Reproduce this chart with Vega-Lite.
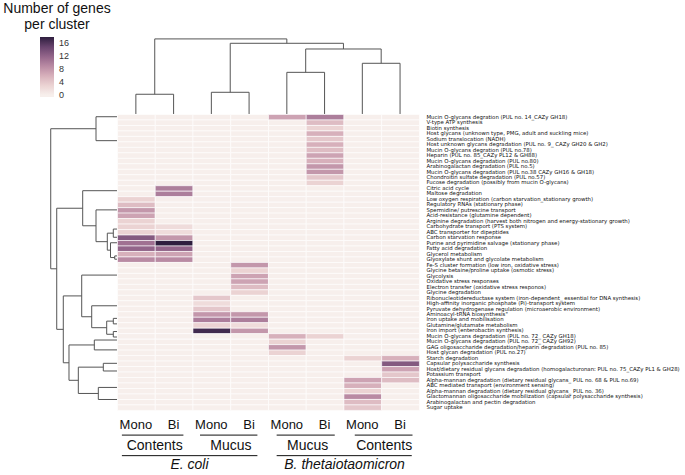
{
"$schema": "https://vega.github.io/schema/vega-lite/v6.json",
"width": 685, "height": 475, "autosize": "none", "padding": 0,
"background": "white",
"config": {"view": {"stroke": null}, "font": "Liberation Sans"},
"datasets": {
"cells": [
{"i":0,"j":0,"v":0},{"i":0,"j":1,"v":0},{"i":0,"j":2,"v":0},{"i":0,"j":3,"v":0},{"i":0,"j":4,"v":7},{"i":0,"j":5,"v":10},{"i":0,"j":6,"v":0},{"i":0,"j":7,"v":0},
{"i":1,"j":0,"v":0},{"i":1,"j":1,"v":0},{"i":1,"j":2,"v":0},{"i":1,"j":3,"v":0},{"i":1,"j":4,"v":0},{"i":1,"j":5,"v":5},{"i":1,"j":6,"v":0},{"i":1,"j":7,"v":0},
{"i":2,"j":0,"v":0},{"i":2,"j":1,"v":0},{"i":2,"j":2,"v":0},{"i":2,"j":3,"v":0},{"i":2,"j":4,"v":0},{"i":2,"j":5,"v":3},{"i":2,"j":6,"v":0},{"i":2,"j":7,"v":0},
{"i":3,"j":0,"v":0},{"i":3,"j":1,"v":0},{"i":3,"j":2,"v":0},{"i":3,"j":3,"v":0},{"i":3,"j":4,"v":0},{"i":3,"j":5,"v":6},{"i":3,"j":6,"v":0},{"i":3,"j":7,"v":0},
{"i":4,"j":0,"v":0},{"i":4,"j":1,"v":0},{"i":4,"j":2,"v":0},{"i":4,"j":3,"v":0},{"i":4,"j":4,"v":0},{"i":4,"j":5,"v":4},{"i":4,"j":6,"v":0},{"i":4,"j":7,"v":0},
{"i":5,"j":0,"v":0},{"i":5,"j":1,"v":0},{"i":5,"j":2,"v":0},{"i":5,"j":3,"v":0},{"i":5,"j":4,"v":0},{"i":5,"j":5,"v":6},{"i":5,"j":6,"v":0},{"i":5,"j":7,"v":0},
{"i":6,"j":0,"v":0},{"i":6,"j":1,"v":0},{"i":6,"j":2,"v":0},{"i":6,"j":3,"v":0},{"i":6,"j":4,"v":0},{"i":6,"j":5,"v":5},{"i":6,"j":6,"v":0},{"i":6,"j":7,"v":0},
{"i":7,"j":0,"v":0},{"i":7,"j":1,"v":0},{"i":7,"j":2,"v":0},{"i":7,"j":3,"v":0},{"i":7,"j":4,"v":0},{"i":7,"j":5,"v":7},{"i":7,"j":6,"v":0},{"i":7,"j":7,"v":0},
{"i":8,"j":0,"v":0},{"i":8,"j":1,"v":0},{"i":8,"j":2,"v":0},{"i":8,"j":3,"v":0},{"i":8,"j":4,"v":0},{"i":8,"j":5,"v":6},{"i":8,"j":6,"v":0},{"i":8,"j":7,"v":0},
{"i":9,"j":0,"v":0},{"i":9,"j":1,"v":0},{"i":9,"j":2,"v":0},{"i":9,"j":3,"v":0},{"i":9,"j":4,"v":0},{"i":9,"j":5,"v":8},{"i":9,"j":6,"v":0},{"i":9,"j":7,"v":0},
{"i":10,"j":0,"v":0},{"i":10,"j":1,"v":0},{"i":10,"j":2,"v":0},{"i":10,"j":3,"v":0},{"i":10,"j":4,"v":0},{"i":10,"j":5,"v":8},{"i":10,"j":6,"v":0},{"i":10,"j":7,"v":0},
{"i":11,"j":0,"v":0},{"i":11,"j":1,"v":0},{"i":11,"j":2,"v":0},{"i":11,"j":3,"v":0},{"i":11,"j":4,"v":0},{"i":11,"j":5,"v":4},{"i":11,"j":6,"v":0},{"i":11,"j":7,"v":0},
{"i":12,"j":0,"v":0},{"i":12,"j":1,"v":0},{"i":12,"j":2,"v":0},{"i":12,"j":3,"v":0},{"i":12,"j":4,"v":0},{"i":12,"j":5,"v":3},{"i":12,"j":6,"v":0},{"i":12,"j":7,"v":0},
{"i":13,"j":0,"v":0},{"i":13,"j":1,"v":10},{"i":13,"j":2,"v":0},{"i":13,"j":3,"v":0},{"i":13,"j":4,"v":0},{"i":13,"j":5,"v":0},{"i":13,"j":6,"v":0},{"i":13,"j":7,"v":0},
{"i":14,"j":0,"v":0},{"i":14,"j":1,"v":10},{"i":14,"j":2,"v":0},{"i":14,"j":3,"v":0},{"i":14,"j":4,"v":0},{"i":14,"j":5,"v":0},{"i":14,"j":6,"v":0},{"i":14,"j":7,"v":0},
{"i":15,"j":0,"v":3},{"i":15,"j":1,"v":0},{"i":15,"j":2,"v":0},{"i":15,"j":3,"v":0},{"i":15,"j":4,"v":0},{"i":15,"j":5,"v":0},{"i":15,"j":6,"v":0},{"i":15,"j":7,"v":0},
{"i":16,"j":0,"v":5},{"i":16,"j":1,"v":0},{"i":16,"j":2,"v":0},{"i":16,"j":3,"v":0},{"i":16,"j":4,"v":0},{"i":16,"j":5,"v":0},{"i":16,"j":6,"v":0},{"i":16,"j":7,"v":0},
{"i":17,"j":0,"v":8},{"i":17,"j":1,"v":0},{"i":17,"j":2,"v":0},{"i":17,"j":3,"v":0},{"i":17,"j":4,"v":0},{"i":17,"j":5,"v":0},{"i":17,"j":6,"v":0},{"i":17,"j":7,"v":0},
{"i":18,"j":0,"v":7},{"i":18,"j":1,"v":0},{"i":18,"j":2,"v":0},{"i":18,"j":3,"v":0},{"i":18,"j":4,"v":0},{"i":18,"j":5,"v":0},{"i":18,"j":6,"v":0},{"i":18,"j":7,"v":0},
{"i":19,"j":0,"v":3},{"i":19,"j":1,"v":0},{"i":19,"j":2,"v":0},{"i":19,"j":3,"v":0},{"i":19,"j":4,"v":0},{"i":19,"j":5,"v":0},{"i":19,"j":6,"v":0},{"i":19,"j":7,"v":0},
{"i":20,"j":0,"v":3},{"i":20,"j":1,"v":2},{"i":20,"j":2,"v":0},{"i":20,"j":3,"v":0},{"i":20,"j":4,"v":0},{"i":20,"j":5,"v":0},{"i":20,"j":6,"v":0},{"i":20,"j":7,"v":0},
{"i":21,"j":0,"v":3},{"i":21,"j":1,"v":2},{"i":21,"j":2,"v":0},{"i":21,"j":3,"v":0},{"i":21,"j":4,"v":0},{"i":21,"j":5,"v":0},{"i":21,"j":6,"v":0},{"i":21,"j":7,"v":0},
{"i":22,"j":0,"v":13},{"i":22,"j":1,"v":8},{"i":22,"j":2,"v":0},{"i":22,"j":3,"v":0},{"i":22,"j":4,"v":0},{"i":22,"j":5,"v":0},{"i":22,"j":6,"v":0},{"i":22,"j":7,"v":0},
{"i":23,"j":0,"v":11},{"i":23,"j":1,"v":18},{"i":23,"j":2,"v":0},{"i":23,"j":3,"v":0},{"i":23,"j":4,"v":0},{"i":23,"j":5,"v":0},{"i":23,"j":6,"v":0},{"i":23,"j":7,"v":0},
{"i":24,"j":0,"v":12},{"i":24,"j":1,"v":12},{"i":24,"j":2,"v":0},{"i":24,"j":3,"v":0},{"i":24,"j":4,"v":0},{"i":24,"j":5,"v":0},{"i":24,"j":6,"v":0},{"i":24,"j":7,"v":0},
{"i":25,"j":0,"v":6},{"i":25,"j":1,"v":7},{"i":25,"j":2,"v":0},{"i":25,"j":3,"v":0},{"i":25,"j":4,"v":0},{"i":25,"j":5,"v":0},{"i":25,"j":6,"v":0},{"i":25,"j":7,"v":0},
{"i":26,"j":0,"v":9},{"i":26,"j":1,"v":9},{"i":26,"j":2,"v":0},{"i":26,"j":3,"v":0},{"i":26,"j":4,"v":0},{"i":26,"j":5,"v":0},{"i":26,"j":6,"v":0},{"i":26,"j":7,"v":0},
{"i":27,"j":0,"v":0},{"i":27,"j":1,"v":0},{"i":27,"j":2,"v":0},{"i":27,"j":3,"v":8},{"i":27,"j":4,"v":0},{"i":27,"j":5,"v":0},{"i":27,"j":6,"v":0},{"i":27,"j":7,"v":0},
{"i":28,"j":0,"v":0},{"i":28,"j":1,"v":0},{"i":28,"j":2,"v":0},{"i":28,"j":3,"v":3},{"i":28,"j":4,"v":0},{"i":28,"j":5,"v":0},{"i":28,"j":6,"v":0},{"i":28,"j":7,"v":0},
{"i":29,"j":0,"v":0},{"i":29,"j":1,"v":0},{"i":29,"j":2,"v":0},{"i":29,"j":3,"v":7},{"i":29,"j":4,"v":0},{"i":29,"j":5,"v":0},{"i":29,"j":6,"v":0},{"i":29,"j":7,"v":0},
{"i":30,"j":0,"v":0},{"i":30,"j":1,"v":0},{"i":30,"j":2,"v":0},{"i":30,"j":3,"v":7},{"i":30,"j":4,"v":0},{"i":30,"j":5,"v":0},{"i":30,"j":6,"v":0},{"i":30,"j":7,"v":0},
{"i":31,"j":0,"v":0},{"i":31,"j":1,"v":0},{"i":31,"j":2,"v":0},{"i":31,"j":3,"v":5},{"i":31,"j":4,"v":0},{"i":31,"j":5,"v":0},{"i":31,"j":6,"v":0},{"i":31,"j":7,"v":0},
{"i":32,"j":0,"v":0},{"i":32,"j":1,"v":0},{"i":32,"j":2,"v":0},{"i":32,"j":3,"v":3},{"i":32,"j":4,"v":0},{"i":32,"j":5,"v":0},{"i":32,"j":6,"v":0},{"i":32,"j":7,"v":0},
{"i":33,"j":0,"v":0},{"i":33,"j":1,"v":0},{"i":33,"j":2,"v":4},{"i":33,"j":3,"v":0},{"i":33,"j":4,"v":0},{"i":33,"j":5,"v":0},{"i":33,"j":6,"v":0},{"i":33,"j":7,"v":0},
{"i":34,"j":0,"v":0},{"i":34,"j":1,"v":0},{"i":34,"j":2,"v":2},{"i":34,"j":3,"v":0},{"i":34,"j":4,"v":0},{"i":34,"j":5,"v":0},{"i":34,"j":6,"v":0},{"i":34,"j":7,"v":0},
{"i":35,"j":0,"v":0},{"i":35,"j":1,"v":0},{"i":35,"j":2,"v":4},{"i":35,"j":3,"v":0},{"i":35,"j":4,"v":0},{"i":35,"j":5,"v":0},{"i":35,"j":6,"v":0},{"i":35,"j":7,"v":0},
{"i":36,"j":0,"v":0},{"i":36,"j":1,"v":0},{"i":36,"j":2,"v":8},{"i":36,"j":3,"v":8},{"i":36,"j":4,"v":0},{"i":36,"j":5,"v":0},{"i":36,"j":6,"v":0},{"i":36,"j":7,"v":0},
{"i":37,"j":0,"v":0},{"i":37,"j":1,"v":0},{"i":37,"j":2,"v":10},{"i":37,"j":3,"v":10},{"i":37,"j":4,"v":0},{"i":37,"j":5,"v":0},{"i":37,"j":6,"v":0},{"i":37,"j":7,"v":0},
{"i":38,"j":0,"v":0},{"i":38,"j":1,"v":0},{"i":38,"j":2,"v":3},{"i":38,"j":3,"v":2},{"i":38,"j":4,"v":0},{"i":38,"j":5,"v":0},{"i":38,"j":6,"v":0},{"i":38,"j":7,"v":0},
{"i":39,"j":0,"v":0},{"i":39,"j":1,"v":0},{"i":39,"j":2,"v":17},{"i":39,"j":3,"v":8},{"i":39,"j":4,"v":0},{"i":39,"j":5,"v":0},{"i":39,"j":6,"v":0},{"i":39,"j":7,"v":0},
{"i":40,"j":0,"v":0},{"i":40,"j":1,"v":0},{"i":40,"j":2,"v":0},{"i":40,"j":3,"v":0},{"i":40,"j":4,"v":6},{"i":40,"j":5,"v":3},{"i":40,"j":6,"v":0},{"i":40,"j":7,"v":0},
{"i":41,"j":0,"v":0},{"i":41,"j":1,"v":0},{"i":41,"j":2,"v":0},{"i":41,"j":3,"v":0},{"i":41,"j":4,"v":3},{"i":41,"j":5,"v":0},{"i":41,"j":6,"v":0},{"i":41,"j":7,"v":0},
{"i":42,"j":0,"v":0},{"i":42,"j":1,"v":0},{"i":42,"j":2,"v":0},{"i":42,"j":3,"v":0},{"i":42,"j":4,"v":8},{"i":42,"j":5,"v":0},{"i":42,"j":6,"v":0},{"i":42,"j":7,"v":0},
{"i":43,"j":0,"v":0},{"i":43,"j":1,"v":0},{"i":43,"j":2,"v":0},{"i":43,"j":3,"v":0},{"i":43,"j":4,"v":3},{"i":43,"j":5,"v":0},{"i":43,"j":6,"v":0},{"i":43,"j":7,"v":0},
{"i":44,"j":0,"v":0},{"i":44,"j":1,"v":0},{"i":44,"j":2,"v":0},{"i":44,"j":3,"v":0},{"i":44,"j":4,"v":0},{"i":44,"j":5,"v":0},{"i":44,"j":6,"v":3},{"i":44,"j":7,"v":6},
{"i":45,"j":0,"v":0},{"i":45,"j":1,"v":0},{"i":45,"j":2,"v":0},{"i":45,"j":3,"v":0},{"i":45,"j":4,"v":0},{"i":45,"j":5,"v":0},{"i":45,"j":6,"v":0},{"i":45,"j":7,"v":13},
{"i":46,"j":0,"v":0},{"i":46,"j":1,"v":0},{"i":46,"j":2,"v":0},{"i":46,"j":3,"v":0},{"i":46,"j":4,"v":0},{"i":46,"j":5,"v":0},{"i":46,"j":6,"v":0},{"i":46,"j":7,"v":7},
{"i":47,"j":0,"v":0},{"i":47,"j":1,"v":0},{"i":47,"j":2,"v":0},{"i":47,"j":3,"v":0},{"i":47,"j":4,"v":0},{"i":47,"j":5,"v":0},{"i":47,"j":6,"v":0},{"i":47,"j":7,"v":4},
{"i":48,"j":0,"v":0},{"i":48,"j":1,"v":0},{"i":48,"j":2,"v":0},{"i":48,"j":3,"v":0},{"i":48,"j":4,"v":0},{"i":48,"j":5,"v":0},{"i":48,"j":6,"v":7},{"i":48,"j":7,"v":5},
{"i":49,"j":0,"v":0},{"i":49,"j":1,"v":0},{"i":49,"j":2,"v":0},{"i":49,"j":3,"v":0},{"i":49,"j":4,"v":0},{"i":49,"j":5,"v":0},{"i":49,"j":6,"v":6},{"i":49,"j":7,"v":0},
{"i":50,"j":0,"v":0},{"i":50,"j":1,"v":0},{"i":50,"j":2,"v":0},{"i":50,"j":3,"v":0},{"i":50,"j":4,"v":0},{"i":50,"j":5,"v":0},{"i":50,"j":6,"v":3},{"i":50,"j":7,"v":0},
{"i":51,"j":0,"v":0},{"i":51,"j":1,"v":0},{"i":51,"j":2,"v":0},{"i":51,"j":3,"v":0},{"i":51,"j":4,"v":0},{"i":51,"j":5,"v":0},{"i":51,"j":6,"v":9},{"i":51,"j":7,"v":0},
{"i":52,"j":0,"v":0},{"i":52,"j":1,"v":0},{"i":52,"j":2,"v":0},{"i":52,"j":3,"v":0},{"i":52,"j":4,"v":0},{"i":52,"j":5,"v":0},{"i":52,"j":6,"v":5},{"i":52,"j":7,"v":0},
{"i":53,"j":0,"v":0},{"i":53,"j":1,"v":0},{"i":53,"j":2,"v":0},{"i":53,"j":3,"v":0},{"i":53,"j":4,"v":0},{"i":53,"j":5,"v":0},{"i":53,"j":6,"v":4},{"i":53,"j":7,"v":0}
],
"rows": [
{"i":0,"name":"Mucin O-glycans degration (PUL no. 14_CAZy GH18)"},
{"i":1,"name":"V-type ATP synthesis"},
{"i":2,"name":"Biotin synthesis"},
{"i":3,"name":"Host glycans (unknown type, PMG, adult and suckling mice)"},
{"i":4,"name":"Sodium translocation (NADH)"},
{"i":5,"name":"Host unknown glycans degradation (PUL no. 9_ CAZy GH20 & GH2)"},
{"i":6,"name":"Mucin O-glycans degration (PUL no.78)"},
{"i":7,"name":"Heparin (PUL no. 85_CAZy PL12 & GH88)"},
{"i":8,"name":"Mucin O-glycans degradation (PUL no.80)"},
{"i":9,"name":"Arabinogalactan degradation (PUL no.5)"},
{"i":10,"name":"Mucin O-glycans degradation (PUL no.38 CAZy GH16 & GH18)"},
{"i":11,"name":"Chondroitin sulfate  degradation (PUL no.57)"},
{"i":12,"name":"Fucose  degradation (possibly from mucin O-glycans)"},
{"i":13,"name":"Citric acid cycle"},
{"i":14,"name":"Maltose degradation"},
{"i":15,"name":"Low oxygen respiration (carbon starvation_stationary growth)"},
{"i":16,"name":"Regulatory RNAs (stationary phase)"},
{"i":17,"name":"Spermidine/ putrescine transport"},
{"i":18,"name":"Acid-resistance (glutamine dependent)"},
{"i":19,"name":"Arginine degradation (harvest both nitrogen and energy-stationary growth)"},
{"i":20,"name":"Carbohydrate transport (PTS system)"},
{"i":21,"name":"ABC transporter for dipeptides"},
{"i":22,"name":"Carbon starvation response"},
{"i":23,"name":"Purine and pyrimidine salvage (stationary phase)"},
{"i":24,"name":"Fatty acid degradation"},
{"i":25,"name":"Glycerol metabolism"},
{"i":26,"name":"Glyoxylate shunt and glycolate metabolism"},
{"i":27,"name":"Fe-S cluster formation (low iron,  oxidative stress)"},
{"i":28,"name":"Glycine betaine/proline uptake (osmotic stress)"},
{"i":29,"name":"Glycolysis"},
{"i":30,"name":"Oxidative stress responses"},
{"i":31,"name":"Electron transfer (oxidative stress responos)"},
{"i":32,"name":"Glycine degradation"},
{"i":33,"name":"Ribonucleotidereductase system (iron-dependent_ essential for DNA synthesis)"},
{"i":34,"name":"High-affinity inorganic phosphate (Pi)-transport system"},
{"i":35,"name":"Pyruvate dehydrogenase regulation (microaerobic environment)"},
{"i":36,"name":"Aminoacyl-tRNA biosynthesis\""},
{"i":37,"name":"Iron uptake and mobilisation"},
{"i":38,"name":"Glutamine/glutamate metabolism"},
{"i":39,"name":"Iron import (enterobactin synthesis)"},
{"i":40,"name":"Mucin O-glycans degradation (PUL no. 72_ CAZy GH18)"},
{"i":41,"name":"Mucin O-glycans degradation (PUL no. 72_ CAZy GH92)"},
{"i":42,"name":"GAG oligosaccharide degradation/heparin degradation (PUL no. 85)"},
{"i":43,"name":"Host glycan degradation (PUL no.27)"},
{"i":44,"name":"Starch degradation"},
{"i":45,"name":"Capsular polysaccharide synthesis"},
{"i":46,"name":"Host/dietary residual glycans degradation (homogalacturonan: PUL no. 75_CAZy PL1 & GH28)"},
{"i":47,"name":"Potassium transport"},
{"i":48,"name":"Alpha-mannan degradation (dietary residual glycans_ PUL no. 68 & PUL no.69)"},
{"i":49,"name":"ABC mediated transport (environment sensing)"},
{"i":50,"name":"Alpha-mannan degradation (dietary residual glycans_ PUL no. 36)"},
{"i":51,"name":"Glactomannan oligosaccharide mobilization (capsular polysaccharide synthesis)"},
{"i":52,"name":"Arabinogalactan and pectin degradation"},
{"i":53,"name":"Sugar uptake"}
],
"rdend": [
{"d":-0.556,"t":0.5,"b":4.87,"dt":0,"db":0},
{"d":-1.756,"t":2.69,"b":28.25,"dt":-0.556,"db":-1.597},
{"d":-1.597,"t":17.2,"b":39.3,"dt":-0.909,"db":-1.423},
{"d":-0.909,"t":14.0,"b":20.4,"dt":0,"db":-0.556},
{"d":-0.556,"t":17.5,"b":23.3,"dt":0,"db":-0.257},
{"d":-0.257,"t":21.75,"b":24.85,"dt":-0.098,"db":-0.172},
{"d":-0.098,"t":21.0,"b":22.5,"dt":0,"db":0},
{"d":-0.172,"t":23.5,"b":26.2,"dt":0,"db":-0.06},
{"d":-0.06,"t":25.9,"b":26.5,"dt":0,"db":0},
{"d":-1.423,"t":33.2,"b":45.4,"dt":-0.935,"db":-1.272},
{"d":-0.935,"t":29.4,"b":37.0,"dt":0,"db":-0.670},
{"d":-0.670,"t":35.0,"b":39.0,"dt":0,"db":-0.273},
{"d":-0.273,"t":37.8,"b":40.2,"dt":-0.098,"db":-0.098},
{"d":-0.098,"t":37.3,"b":38.3,"dt":0,"db":0},
{"d":-0.098,"t":39.7,"b":40.7,"dt":0,"db":0},
{"d":-1.272,"t":42.15,"b":48.6,"dt":-0.601,"db":-1.025},
{"d":-0.601,"t":41.25,"b":43.05,"dt":0,"db":0},
{"d":-1.025,"t":46.2,"b":51.0,"dt":-0.363,"db":-0.495},
{"d":-0.363,"t":45.5,"b":46.9,"dt":0,"db":0},
{"d":-0.495,"t":49.9,"b":52.1,"dt":0,"db":0}
],
"cdend": [
{"h":-3.6,"l":0.5,"r":1.5,"hl":0,"hr":0},
{"h":-3.96,"l":2.5,"r":3.5,"hl":0,"hr":0},
{"h":-7.6,"l":4.5,"r":5.5,"hl":0,"hr":0},
{"h":-9.25,"l":6.5,"r":7.5,"hl":0,"hr":0},
{"h":-11.86,"l":5.0,"r":7.0,"hl":-7.6,"hr":-9.25},
{"h":-12.9,"l":3.0,"r":6.0,"hl":-3.96,"hr":-11.86},
{"h":-13.7,"l":1.0,"r":4.5,"hl":-3.6,"hr":-12.9}
],
"cols": [
{"c":0.5,"lab":"Mono"},{"c":1.5,"lab":"Bi"},{"c":2.5,"lab":"Mono"},{"c":3.5,"lab":"Bi"},
{"c":4.5,"lab":"Mono"},{"c":5.5,"lab":"Bi"},{"c":6.5,"lab":"Mono"},{"c":7.5,"lab":"Bi"}
],
"pairs": [
{"lab":"Contents","lo":0.13,"hi":1.76,"mid":1.0},
{"lab":"Mucus","lo":2.2,"hi":3.72,"mid":3.02},
{"lab":"Mucus","lo":4.23,"hi":5.77,"mid":5.05},
{"lab":"Contents","lo":6.3,"hi":7.83,"mid":7.08}
],
"species": [
{"lab":"E. coli","lo":0.13,"hi":3.72,"mid":1.92},
{"lab":"B. thetaiotaomicron","lo":4.23,"hi":7.81,"mid":6.03}
]
},
"layer": [
{
"data": {"name": "cells"},
"mark": {"type": "rect", "stroke": "white", "strokeWidth": 0.6},
"encoding": {
"x": {"field": "j", "type": "quantitative", "bin": {"binned": true, "step": 1}, "scale": {"domain": [-3.1, 15.05], "nice": false, "zero": false}, "axis": null},
"y": {"field": "i", "type": "quantitative", "bin": {"binned": true, "step": 1}, "scale": {"domain": [-20.8, 65.88], "nice": false, "zero": false, "reverse": true}, "axis": null},
"color": {"field": "v", "type": "quantitative",
"scale": {"domain": [-0.6, 0, 3, 6, 9, 12, 15, 18], "range": ["#f7efec", "#f7efec", "#ebd3d3", "#d7b0bb", "#b98aa3", "#93658a", "#67436d", "#2e1e3e"], "interpolate": "rgb"},
"legend": {"orient": "none", "legendX": 40, "legendY": 37, "title": null, "direction": "vertical", "gradientLength": 60, "gradientThickness": 14, "values": [0, 4, 8, 12, 16], "labelOverlap": false, "labelBaseline": "middle", "labelFontSize": 9, "labelColor": "#333", "labelOffset": 5, "gradientStrokeWidth": 0}}
}
},
{
"data": {"name": "rows"},
"mark": {"type": "text", "align": "left", "baseline": "middle", "font": "DejaVu Sans", "fontSize": 5.4, "dy": 2.74, "color": "#111"},
"encoding": {
"x": {"datum": 8.2, "type": "quantitative"},
"y": {"field": "i", "type": "quantitative"},
"text": {"field": "name"}
}
},
{
"data": {"name": "rdend"},
"mark": {"type": "rule", "color": "#555", "strokeWidth": 1},
"encoding": {"x": {"field": "d", "type": "quantitative"}, "y": {"field": "t", "type": "quantitative"}, "y2": {"field": "b"}}
},
{
"data": {"name": "rdend"},
"mark": {"type": "rule", "color": "#555", "strokeWidth": 1},
"encoding": {"x": {"field": "d", "type": "quantitative"}, "x2": {"field": "dt"}, "y": {"field": "t", "type": "quantitative"}}
},
{
"data": {"name": "rdend"},
"mark": {"type": "rule", "color": "#555", "strokeWidth": 1},
"encoding": {"x": {"field": "d", "type": "quantitative"}, "x2": {"field": "db"}, "y": {"field": "b", "type": "quantitative"}}
},
{
"data": {"name": "cdend"},
"mark": {"type": "rule", "color": "#555", "strokeWidth": 1},
"encoding": {"x": {"field": "l", "type": "quantitative"}, "x2": {"field": "r"}, "y": {"field": "h", "type": "quantitative"}}
},
{
"data": {"name": "cdend"},
"mark": {"type": "rule", "color": "#555", "strokeWidth": 1},
"encoding": {"x": {"field": "l", "type": "quantitative"}, "y": {"field": "h", "type": "quantitative"}, "y2": {"field": "hl"}}
},
{
"data": {"name": "cdend"},
"mark": {"type": "rule", "color": "#555", "strokeWidth": 1},
"encoding": {"x": {"field": "r", "type": "quantitative"}, "y": {"field": "h", "type": "quantitative"}, "y2": {"field": "hr"}}
},
{
"data": {"name": "cols"},
"mark": {"type": "text", "align": "center", "baseline": "alphabetic", "fontSize": 13, "color": "#111"},
"encoding": {"x": {"field": "c", "type": "quantitative"}, "y": {"datum": 57.5, "type": "quantitative"}, "text": {"field": "lab"}}
},
{
"data": {"name": "pairs"},
"mark": {"type": "rule", "color": "#111", "strokeWidth": 1},
"encoding": {"x": {"field": "lo", "type": "quantitative"}, "x2": {"field": "hi"}, "y": {"datum": 58.6, "type": "quantitative"}}
},
{
"data": {"name": "pairs"},
"mark": {"type": "text", "align": "center", "baseline": "alphabetic", "fontSize": 14, "color": "#111"},
"encoding": {"x": {"field": "mid", "type": "quantitative"}, "y": {"datum": 61.3, "type": "quantitative"}, "text": {"field": "lab"}}
},
{
"data": {"name": "species"},
"mark": {"type": "rule", "color": "#111", "strokeWidth": 1},
"encoding": {"x": {"field": "lo", "type": "quantitative"}, "x2": {"field": "hi"}, "y": {"datum": 62.35, "type": "quantitative"}}
},
{
"data": {"name": "species"},
"mark": {"type": "text", "align": "center", "baseline": "alphabetic", "fontSize": 14, "fontStyle": "italic", "color": "#111"},
"encoding": {"x": {"field": "mid", "type": "quantitative"}, "y": {"datum": 64.8, "type": "quantitative"}, "text": {"field": "lab"}}
},
{
"data": {"values": [{"t": "Number of genes\nper cluster"}]},
"mark": {"type": "text", "align": "center", "baseline": "alphabetic", "fontSize": 14, "lineBreak": "\n", "lineHeight": 16, "color": "#111"},
"encoding": {"x": {"datum": -1.59, "type": "quantitative"}, "y": {"datum": -18.4, "type": "quantitative"}, "text": {"field": "t"}}
}
]
}
